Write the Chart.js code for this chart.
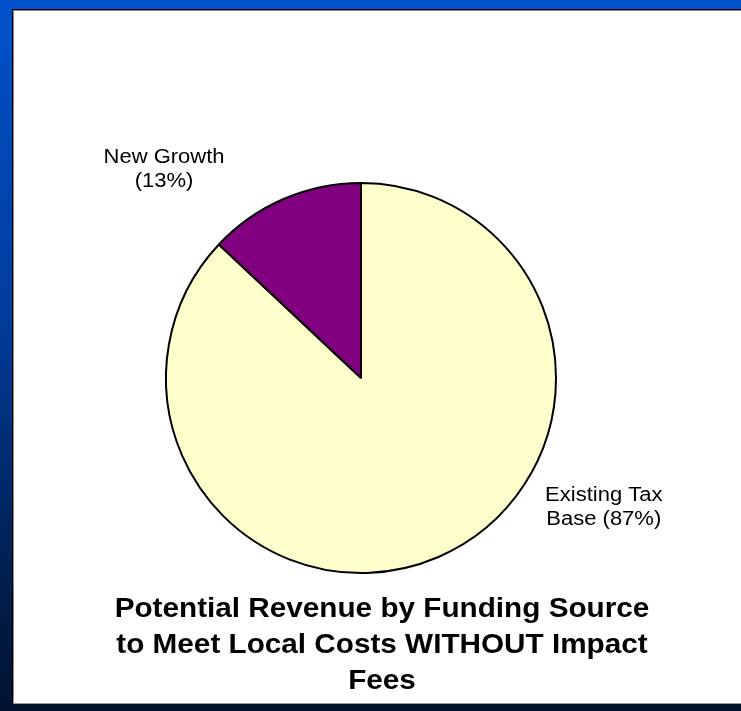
<!DOCTYPE html>
<html>
<head>
<meta charset="utf-8">
<title>Potential Revenue by Funding Source</title>
<script src="https://cdn.jsdelivr.net/npm/chart.js@4"></script>
<style>
  html, body {
    margin: 0;
    padding: 0;
    width: 741px;
    height: 711px;
    overflow: hidden;
  }
  body {
    position: relative;
    background: linear-gradient(to bottom, #0052cc 0%, #003c9a 45%, #001e4c 82%, #001230 100%);
  }
  /* white slide panel with a thin dark/grey edge */
  .panel {
    position: absolute;
    left: 12px;
    top: 9px;
    width: 740px;
    height: 696px;
    border-top: 1px solid #000;
    border-left: 1px solid #000;
    border-bottom: 1px solid #101010;
    box-sizing: border-box;
  }
  .panel-inner {
    position: absolute;
    left: 0;
    top: 0;
    right: 0;
    bottom: 0;
    background: #fff;
    border-top: 1px solid #8a8a8a;
    border-left: 1px solid #8a8a8a;
    border-bottom: 1px solid #9a9a9a;
  }
  canvas {
    position: absolute;
    left: 0;
    top: 0;
  }
</style>
</head>
<body>
<div class="panel">
  <div class="panel-inner">
    <canvas id="chart" width="727" height="694"></canvas>
  </div>
</div>

<script>
// Chart data
const categories = ['Existing Tax Base', 'New Growth'];
const shares = [87, 13];
const labelLines = [['Existing Tax', 'Base'], ['New Growth', '']];
const titleLines = [
    'Potential Revenue by Funding Source',
    'to Meet Local Costs WITHOUT Impact',
    'Fees'
];

const sliceColors = ['#FFFFCC', '#800080'];
const FONT = '"Liberation Sans", Arial, Helvetica, sans-serif';
const STRETCH = 1.1;  // text on the slide is set a little wide

// where each slice label sits, in units of the pie radius from its centre
const labelSpots = [[1.245, 0.665], [-1.01, -1.07]];

function sliceLabel(i) {
    const lines = labelLines[i].slice();
    const last = lines.length - 1;
    lines[last] = (lines[last] + ' (' + shares[i] + '%)').trim();
    return lines;
}

function drawWide(ctx, text, x, y) {
    ctx.save();
    ctx.translate(x, y);
    ctx.scale(STRETCH, 1);
    ctx.fillText(text, 0, 0);
    ctx.restore();
}

// slice labels and the caption under the pie
const slideText = {
    id: 'slideText',
    afterDraw(chart) {
        const ctx = chart.ctx;
        const meta = chart.getDatasetMeta(0);
        ctx.save();
        ctx.fillStyle = '#000';
        ctx.textAlign = 'center';
        ctx.textBaseline = 'middle';

        ctx.font = '20px ' + FONT;
        meta.data.forEach((arc, i) => {
            const x = arc.x + labelSpots[i][0] * arc.outerRadius;
            const y = arc.y + labelSpots[i][1] * arc.outerRadius;
            const lines = sliceLabel(i);
            lines.forEach((line, k) => {
                drawWide(ctx, line, x, y + (k - (lines.length - 1) / 2) * 24);
            });
        });

        ctx.font = 'bold 27px ' + FONT;
        const n = titleLines.length;
        titleLines.forEach((line, k) => {
            drawWide(ctx, line, chart.width / 2 + 4.5, chart.height - 23 - (n - 1 - k) * 36);
        });
        ctx.restore();
    }
};

const ctx = document.getElementById('chart').getContext('2d');
new Chart(ctx, {
    type: 'pie',
    data: {
        labels: categories,
        datasets: [{
            data: shares,
            backgroundColor: sliceColors,
            borderColor: '#000',
            borderWidth: 2
        }]
    },
    options: {
        responsive: false,
        animation: false,
        layout: {
            padding: { top: 171, bottom: 131, left: 0, right: 33 }
        },
        plugins: {
            legend: { display: false },
            tooltip: { enabled: false },
            title: { display: false }
        }
    },
    plugins: [slideText]
});
</script>
</body>
</html>
